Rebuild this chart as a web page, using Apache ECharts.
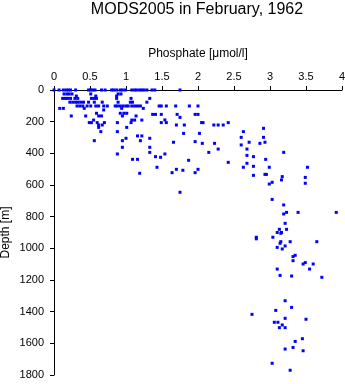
<!DOCTYPE html>
<html>
<head>
<meta charset="utf-8">
<script src="https://cdn.jsdelivr.net/npm/echarts@6/dist/echarts.min.js"></script>
<style>
  html, body { margin: 0; padding: 0; background: #fff; }
  #chart { width: 345px; height: 384px; }
</style>
</head>
<body>
<div id="chart"></div>
<script>
// Phosphate profile samples: concentration (µmol/l) and sample depth (m)
const phosphate = [
  // surface samples
  0.00, 0.07, 0.13, 0.17, 0.20, 0.23, 0.30, 0.48, 0.51, 0.54, 0.57, 0.66, 0.71, 0.80, 0.83,
  0.87, 0.92, 0.95, 0.99, 1.08, 1.12, 1.15, 1.19, 1.22, 1.25, 1.29, 1.36, 1.40, 1.75,
  // upper layer
  0.14, 0.18, 0.21, 0.25, 0.51, 0.89, 0.93,
  0.31, 0.58, 0.87,
  0.12, 0.16, 0.19, 0.23, 0.29, 0.33, 0.52, 0.56, 0.59, 0.87, 1.07, 1.33,
  0.22, 0.26, 0.30, 0.33, 0.37, 0.41, 0.48, 0.56, 0.67, 0.89, 1.06, 1.09, 1.29,
  0.32, 0.36, 0.40, 0.46, 0.51, 0.58, 0.62, 0.69, 0.74, 0.85, 0.88, 0.92, 0.96, 1.00, 1.03,
  1.08, 1.12, 1.16, 1.20, 1.46, 1.49, 1.56, 1.69, 1.88, 2.00,
  0.08, 0.13, 0.42, 0.94, 1.24,
  0.69,
  0.59, 0.92, 0.97, 1.01, 1.37, 1.41, 1.49, 1.71, 1.96, 2.00,
  0.24, 0.44, 0.62, 0.66, 0.95, 1.14, 1.75,
  0.55, 1.08, 1.12, 1.22, 1.54,
  0.49, 0.52, 0.60, 0.70, 0.88, 1.07, 1.49, 1.56, 2.05, 2.07, 2.42,
  0.62, 0.67, 1.70, 1.81, 2.22, 2.28, 2.35,
  0.62, 1.01, 2.91,
  0.65, 0.88, 2.63,
  1.80, 2.02,
  1.16, 1.22,
  2.60, 2.91,
  1.00, 1.33,
  0.56, 0.95, 1.20,
  1.96, 1.66, 2.71, 2.93,
  2.06, 2.23, 2.86, 2.60,
  0.95, 1.33,
  2.28, 2.68,
  1.33, 2.15, 3.19,
  0.88, 1.54, 2.68, 1.41, 2.77, 1.48,
  1.09, 1.16, 2.94, 1.87, 2.42, 2.68, 2.77,
  1.43, 2.63, 2.99, 3.52,
  1.70, 2.00, 1.79, 1.64, 1.96, 1.19,
  2.93, 2.95, 2.77, 3.17, 3.49, 3.16, 3.03, 3.49, 2.99,
  1.75, 3.03, 3.19, 3.23, 3.39, 3.92, 3.19,
  // deep layer
  3.21, 3.13, 3.23, 3.10, 3.16, 3.15, 3.04, 2.81, 2.81, 3.15, 3.28, 3.65, 3.14, 3.21, 3.10,
  3.17, 3.35, 3.32, 3.32, 3.49, 3.46, 3.60, 3.10, 3.55, 3.14, 3.30, 3.72,
  3.21, 3.30, 3.08, 2.75, 3.21, 3.50, 3.06, 3.11, 3.17, 3.13, 3.21,
  3.45, 3.35, 3.32, 3.21, 3.46, 3.03, 3.28
];

const depth = [
  0, 0, 0, 0, 0, 0, 0, 0, 0, 0, 0, 0, 0, 0, 0,
  0, 0, 0, 0, 0, 0, 0, 0, 0, 0, 0, 0, 0, 0,
  25, 25, 25, 25, 25, 25, 25,
  38, 38, 38,
  53, 53, 53, 53, 53, 53, 53, 53, 53, 53, 53, 53,
  77, 77, 77, 77, 77, 77, 77, 77, 77, 77, 77, 77, 77,
  101, 101, 101, 101, 101, 101, 101, 101, 101, 101, 101, 101, 101, 101, 101,
  101, 101, 101, 101, 101, 101, 101, 101, 101, 101,
  116, 116, 116, 116, 116,
  126,
  147, 147, 147, 147, 154, 154, 154, 154, 154, 154,
  164, 164, 164, 164, 164, 164, 173,
  190, 190, 190, 190, 189,
  206, 206, 206, 206, 206, 206, 206, 206, 206, 206, 206,
  221, 221, 221, 221, 221, 221, 221,
  236, 236, 242,
  263, 263, 263,
  274, 274,
  290, 290,
  299, 299,
  305, 305,
  320, 320, 320,
  326, 330, 330, 330,
  337, 337, 337, 347,
  362, 362,
  373, 373,
  394, 394, 394,
  404, 404, 413, 421, 421, 425,
  438, 438, 438, 444, 457, 463, 482,
  488, 488, 488, 488,
  501, 501, 507, 522, 522, 526,
  533, 533, 539, 547, 552, 568, 583, 589, 594,
  646, 691, 726, 773, 773, 773, 783,
  842, 880, 880, 900, 900, 905, 930, 930, 940, 958, 958, 958, 968, 985, 994,
  1004, 1044, 1052, 1078, 1090, 1099, 1099, 1131, 1131, 1171, 1175, 1183,
  1331, 1373, 1392, 1417, 1442, 1448, 1467, 1467, 1484, 1501, 1501,
  1571, 1588, 1626, 1636, 1647, 1726, 1770
];

const phosphateTicks = [0, 0.5, 1, 1.5, 2, 2.5, 3, 3.5, 4];
const depthTicks = [0, 200, 400, 600, 800, 1000, 1200, 1400, 1600, 1800];

const points = phosphate.map((p, i) => [p, depth[i]]);
const font = 'Liberation Sans, Arial, Helvetica, sans-serif';
const plain = v => String(v);

const chart = echarts.init(document.getElementById('chart'), null, { renderer: 'canvas' });
chart.setOption({
  animation: false,
  backgroundColor: '#ffffff',
  title: {
    text: 'MODS2005 in February, 1962',
    left: 197,
    textAlign: 'center',
    top: 1,
    padding: [1, 0, 0, 0],
    textStyle: { fontFamily: font, fontSize: 16, fontWeight: 'normal', color: '#000' }
  },
  grid: { left: 54, right: 3, top: 90, bottom: 9, containLabel: false, outerBoundsMode: 'none' },
  xAxis: {
    type: 'value',
    position: 'top',
    min: phosphateTicks[0],
    max: phosphateTicks[phosphateTicks.length - 1],
    interval: 0.5,
    name: 'Phosphate [μmol/l]',
    nameLocation: 'middle',
    nameGap: 30,
    nameMoveOverlap: false,
    nameTextStyle: { fontFamily: font, fontSize: 12, color: '#000' },
    axisLine: { show: true, lineStyle: { color: '#000', width: 1 } },
    axisTick: { show: true, length: 4, lineStyle: { color: '#000' } },
    axisLabel: { fontFamily: font, fontSize: 11, color: '#000', margin: 8, formatter: plain },
    splitLine: { show: false }
  },
  yAxis: {
    type: 'value',
    inverse: true,
    min: depthTicks[0],
    max: depthTicks[depthTicks.length - 1],
    interval: 200,
    name: 'Depth [m]',
    nameLocation: 'middle',
    nameGap: 42,
    nameMoveOverlap: false,
    nameTextStyle: { fontFamily: font, fontSize: 12, color: '#000' },
    axisLine: { show: true, lineStyle: { color: '#000', width: 1 } },
    axisTick: { show: true, length: 4, lineStyle: { color: '#000' } },
    axisLabel: { fontFamily: font, fontSize: 11, color: '#000', margin: 10, formatter: plain },
    splitLine: { show: false }
  },
  series: [{
    type: 'scatter',
    data: points,
    symbol: 'rect',
    symbolSize: 3,
    itemStyle: { color: '#0000ff', opacity: 1 },
    silent: true
  }]
});
</script>
</body>
</html>
